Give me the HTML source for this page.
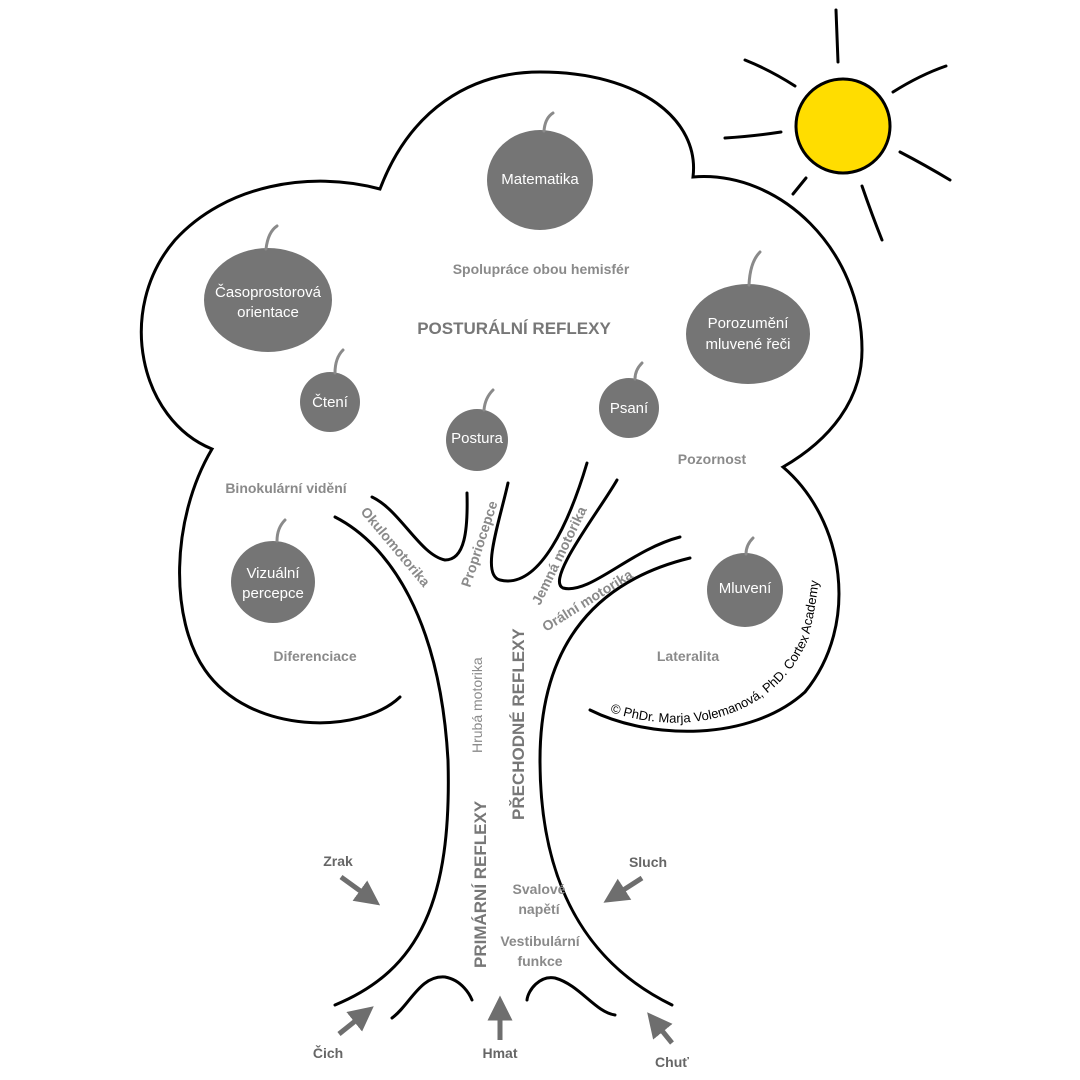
<!DOCTYPE html>
<html><head><meta charset="utf-8"><style>
html,body{margin:0;padding:0;background:#fff}
svg{display:block}
.g{font-family:"Liberation Sans",sans-serif;font-weight:bold;fill:#8a8a8a;font-size:14px}
.w{font-family:"Liberation Sans",sans-serif;fill:#fff;font-size:15px;text-anchor:middle}
.f{fill:#757575}
.st{stroke:#8a8a8a;stroke-width:3;fill:none;stroke-linecap:round}
.k{stroke:#000;stroke-width:3;fill:none;stroke-linecap:round}
</style></head><body>
<svg width="1080" height="1080" viewBox="0 0 1080 1080">
<g class="k">
<path d="M836 10 L838 62"/><path d="M893 92 Q920 75 946 66"/><path d="M900 152 Q925 165 950 180"/>
<path d="M862 186 Q872 215 882 240"/><path d="M806 178 L793 194"/><path d="M725 138 Q755 136 781 132"/>
<path d="M745 60 Q770 70 795 86"/>
</g>
<circle cx="843" cy="126" r="47" fill="#ffdd00" stroke="#000" stroke-width="3"/>
<path class="k" d="M400 697 C360 735,250 735,205 670 C170 620,170 520,212 449 C140 420,115 310,175 240 C225 185,310 170,380 189 C410 110,470 72,540 72 C640 72,700 120,693 177 C780 170,862 250,862 350 C862 400,830 440,783 467 C845 520,860 625,805 692 C750 742,650 740,590 710"/>
<path class="k" d="M335 517 C390 545,440 620,448 760 C452 900,420 970,335 1005"/>
<path class="k" d="M690 558 C600 580,540 640,540 760 C540 900,600 970,672 1005"/>
<path class="k" d="M372 497 C400 510,420 555,445 560 C465 560,468 530,467 493"/>
<path class="k" d="M508 483 C500 520,480 575,500 580 C540 590,570 520,587 463"/>
<path class="k" d="M617 480 C600 510,545 580,563 588 C590 595,630 550,680 537"/>
<path class="k" d="M392 1018 C410 1005,420 975,445 977 C462 980,470 995,472 1000"/>
<path class="k" d="M527 1000 C528 990,540 975,555 978 C580 985,595 1012,615 1015"/>
<g class="f">
<ellipse cx="540" cy="180" rx="53" ry="50"/>
<ellipse cx="268" cy="300" rx="64" ry="52"/>
<ellipse cx="748" cy="334" rx="62" ry="50"/>
<circle cx="330" cy="402" r="30"/>
<circle cx="477" cy="440" r="31"/>
<circle cx="629" cy="408" r="30"/>
<ellipse cx="273" cy="582" rx="42" ry="41"/>
<ellipse cx="745" cy="590" rx="38" ry="37"/>
</g>
<g class="st">
<path d="M544 131 Q545 118 553 113"/><path d="M266 249 Q268 232 277 226"/><path d="M749 285 Q750 262 760 252"/>
<path d="M335 373 Q335 358 343 350"/><path d="M484 410 Q485 398 493 390"/><path d="M635 379 Q635 370 642 363"/>
<path d="M277 541 Q277 528 285 520"/><path d="M746 554 Q746 545 753 538"/>
</g>
<g class="w">
<text x="540" y="184">Matematika</text>
<text x="268" y="297">Časoprostorová</text><text x="268" y="317">orientace</text>
<text x="748" y="328">Porozumění</text><text x="748" y="349">mluvené řeči</text>
<text x="330" y="407">Čtení</text>
<text x="477" y="443">Postura</text>
<text x="629" y="413">Psaní</text>
<text x="273" y="578">Vizuální</text><text x="273" y="598">percepce</text>
<text x="745" y="593">Mluvení</text>
</g>
<g class="g">
<text x="541" y="274" text-anchor="middle">Spolupráce obou hemisfér</text>
<text x="514" y="334" text-anchor="middle" font-size="17" fill="#777">POSTURÁLNÍ REFLEXY</text>
<text x="712" y="464" text-anchor="middle">Pozornost</text>
<text x="286" y="493" text-anchor="middle">Binokulární vidění</text>
<text x="315" y="661" text-anchor="middle">Diferenciace</text>
<text x="688" y="661" text-anchor="middle">Lateralita</text>
<text transform="translate(360,512) rotate(50)">Okulomotorika</text>
<text transform="translate(470,588) rotate(-72)">Propriocepce</text>
<text transform="translate(540,606) rotate(-64)">Jemná motorika</text>
<text transform="translate(546,632) rotate(-32)">Orální motorika</text>
<text transform="translate(482,753) rotate(-90)" font-weight="normal" font-size="14">Hrubá motorika</text>
<text transform="translate(524,820) rotate(-90)" font-size="17" fill="#777">PŘECHODNÉ REFLEXY</text>
<text transform="translate(486,968) rotate(-90)" font-size="17" fill="#777">PRIMÁRNÍ REFLEXY</text>
<text x="539" y="894" text-anchor="middle">Svalové</text><text x="539" y="914" text-anchor="middle">napětí</text>
<text x="540" y="946" text-anchor="middle">Vestibulární</text><text x="540" y="966" text-anchor="middle">funkce</text>
<text x="338" y="866" text-anchor="middle" fill="#666">Zrak</text>
<text x="648" y="867" text-anchor="middle" fill="#666">Sluch</text>
<text x="328" y="1058" text-anchor="middle" fill="#666">Čich</text>
<text x="500" y="1058" text-anchor="middle" fill="#666">Hmat</text>
<text x="672" y="1067" text-anchor="middle" fill="#666">Chuť</text>
</g>
<defs><marker id="a" markerWidth="5" markerHeight="5" refX="2.5" refY="2.5" orient="auto" markerUnits="strokeWidth"><path d="M0 0 L5 2.5 L0 5 z" fill="#6e6e6e"/></marker></defs>
<g stroke="#6e6e6e" stroke-width="5" fill="none">
<path d="M341 877 L370 898" marker-end="url(#a)"/>
<path d="M642 878 L614 896" marker-end="url(#a)"/>
<path d="M339 1034 L364 1014" marker-end="url(#a)"/>
<path d="M500 1040 L500 1008" marker-end="url(#a)"/>
<path d="M672 1043 L655 1022" marker-end="url(#a)"/>
</g>
<path id="cp" d="M610 712 C680 735,770 725,808 640 C818 600,822 560,822 525" fill="none"/>
<text font-family="Liberation Sans,sans-serif" font-size="13" fill="#000"><textPath href="#cp">© PhDr. Marja Volemanová, PhD. Cortex Academy</textPath></text>
</svg>
</body></html>
